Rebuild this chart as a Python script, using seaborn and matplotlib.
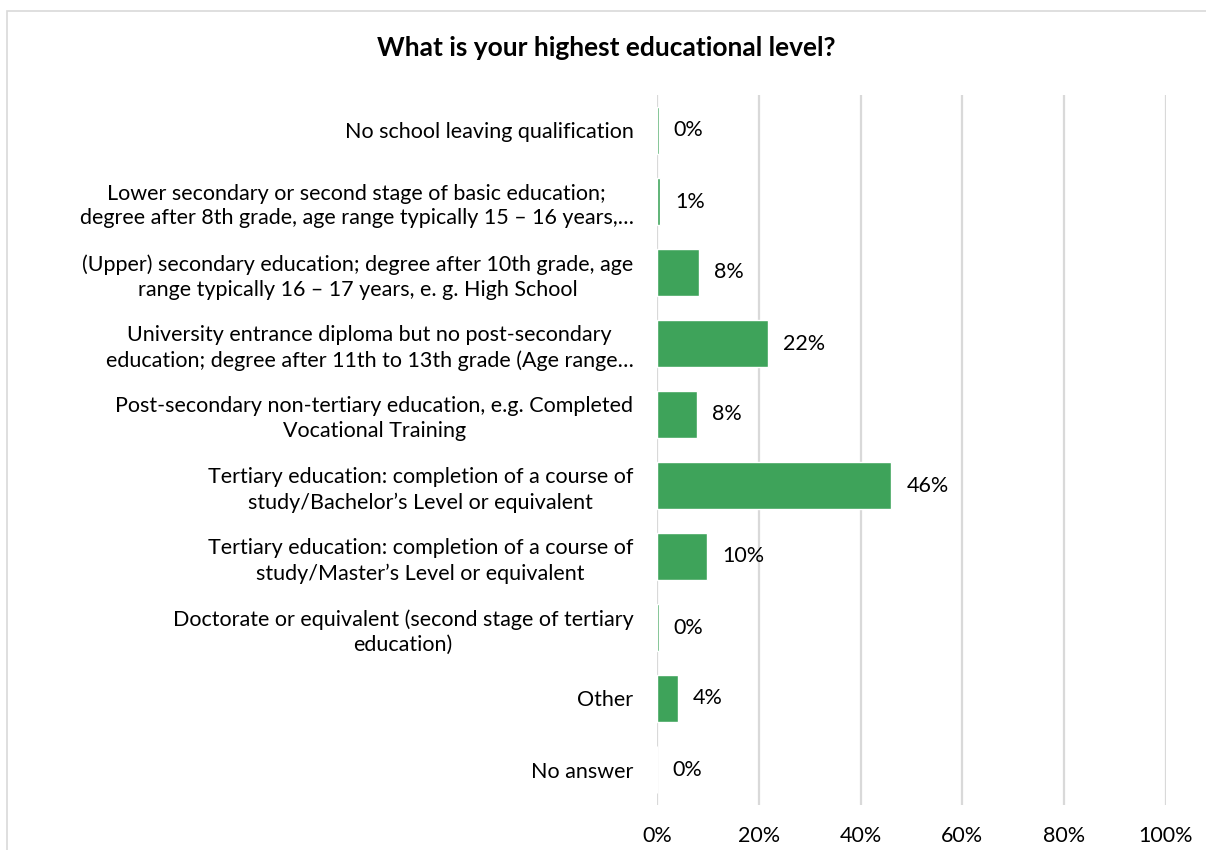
import matplotlib
matplotlib.use("Agg")
import matplotlib.pyplot as plt
from matplotlib.patches import Rectangle
from matplotlib.ticker import FuncFormatter
import seaborn as sns
import pandas as pd

categories = [
    "No school leaving qualification",
    "Lower secondary or second stage of basic education;\ndegree after 8th grade, age range typically 15 – 16 years,…",
    "(Upper) secondary education; degree after 10th grade, age\nrange typically 16 – 17 years, e. g. High School",
    "University entrance diploma but no post-secondary\neducation; degree after 11th to 13th grade (Age range…",
    "Post-secondary non-tertiary education, e.g. Completed\nVocational Training",
    "Tertiary education: completion of a course of\nstudy/Bachelor’s Level or equivalent",
    "Tertiary education: completion of a course of\nstudy/Master’s Level or equivalent",
    "Doctorate or equivalent (second stage of tertiary\neducation)",
    "Other",
    "No answer",
]
shares = [0.3, 0.6, 8.2, 21.8, 7.8, 46.0, 9.9, 0.3, 4.1, 0.0]
x_ticks = [0, 20, 40, 60, 80, 100]

GREEN = "#3ea35a"
GRID = "#d9d9d9"
FS = 15.5

sns.set_theme(style="white")
plt.rcParams["font.family"] = ["Lato", "DejaVu Sans"]

df = pd.DataFrame({"level": categories, "share": shares})

fig = plt.figure(figsize=(12.06, 8.5), dpi=100)
ax = fig.add_axes([657 / 1206, 45 / 850, (1166 - 657) / 1206, 710 / 850])

sns.barplot(data=df, y="level", x="share", orient="h", color=GREEN,
            width=0.66, errorbar=None, saturation=1, ax=ax)

ax.set_xlim(0, 100)
ax.set_ylim(len(categories) - 0.5, -0.5)
ax.set_xticks(x_ticks)
ax.xaxis.set_major_formatter(FuncFormatter(lambda v, _: f"{v:.0f}%"))
ax.grid(axis="x", color=GRID, linewidth=1.6)
ax.set_axisbelow(True)
for s in ax.spines.values():
    s.set_visible(False)
ax.set_xlabel("")
ax.set_ylabel("")
ax.tick_params(axis="x", length=0, pad=15, labelsize=FS, colors="black")
ax.tick_params(axis="y", length=0, pad=17, labelsize=FS, colors="black")
for lbl in ax.get_yticklabels():
    lbl.set_multialignment("center")
    lbl.set_linespacing(1.3)

ax.bar_label(ax.containers[0], labels=[f"{v:.0f}%" for v in shares],
             padding=11, fontsize=FS, color="black")

fig.text(0.503, 1 - 48 / 850, "What is your highest educational level?",
         ha="center", va="center", fontsize=19, fontweight="bold", color="black")

# light frame around the chart area
fig.patches.append(Rectangle((6.5 / 1206, -0.2), 1.2, 1.2 - 10.5 / 850,
                             transform=fig.transFigure, fill=False,
                             edgecolor=GRID, linewidth=1.2))

fig.savefig("out.png", dpi=100, facecolor="white")
